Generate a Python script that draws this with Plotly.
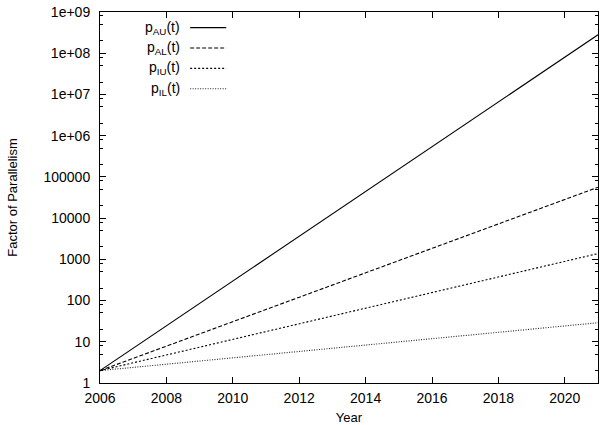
import plotly.graph_objects as go

years = [2006, 2021]
p_AU = [2, 2.8e8]
p_AL = [2, 5.6e4]
p_IU = [2, 1.38e3]
p_IL = [2, 29]

series_names = ["p<sub>AU</sub>(t)", "p<sub>AL</sub>(t)", "p<sub>IU</sub>(t)", "p<sub>IL</sub>(t)"]
series_vals = [p_AU, p_AL, p_IU, p_IL]
series_dash = ["solid", "4px,2px", "2px,2px", "1px,1.5px"]
series_color = ["#000000", "#000000", "#000000", "#222222"]

x_ticks = [2006, 2008, 2010, 2012, 2014, 2016, 2018, 2020]
y_ticks = [1, 10, 100, 1000, 10000, 100000, 1e6, 1e7, 1e8, 1e9]
y_ticktext = ["1", "10", "100", "1000", "10000", "100000", "1e+06", "1e+07", "1e+08", "1e+09"]
y_minor = [m * 10 ** d for d in range(9) for m in (2, 5, 8)]

FONT = "Liberation Sans, Arial, sans-serif"
FS = 14

fig = go.Figure()
for name, vals, dash, col in zip(series_names, series_vals, series_dash, series_color):
    fig.add_trace(go.Scatter(x=years, y=vals, mode="lines", name=name,
                             line=dict(color=col, width=1.1, dash=dash), showlegend=False))

# gnuplot-style key: right-aligned text, line sample to the right
key_top = 0.958
key_step = 0.055
for i, (name, dash, col) in enumerate(zip(series_names, series_dash, series_color)):
    yk = key_top - i * key_step
    fig.add_annotation(xref="paper", yref="paper", x=0.165, y=yk, text=name,
                       showarrow=False, xanchor="right", yanchor="middle",
                       font=dict(family=FONT, size=FS, color="black"))
    fig.add_shape(type="line", xref="paper", yref="paper", x0=0.181, x1=0.2535,
                  y0=yk, y1=yk, line=dict(color=col, width=1.1, dash=dash))

axis_common = dict(showline=True, linecolor="black", linewidth=1, mirror="ticks",
                   ticks="inside", ticklen=6, tickcolor="black", showgrid=False,
                   zeroline=False, tickfont=dict(family=FONT, size=FS, color="black"))

fig.update_xaxes(range=[2006, 2021], tickmode="array", tickvals=x_ticks, ticklabelstandoff=2,
                 title=dict(text="Year", font=dict(family=FONT, size=FS - 1, color="black"), standoff=8),
                 **axis_common)
fig.update_yaxes(type="log", range=[0, 9], tickmode="array", tickvals=y_ticks, ticktext=y_ticktext,
                 ticklabelstandoff=6,
                 minor=dict(tickmode="array", tickvals=y_minor, ticks="inside", ticklen=3, tickcolor="black"),
                 title=dict(text="Factor of Parallelism", font=dict(family=FONT, size=FS - 1, color="black"), standoff=22),
                 **axis_common)

fig.update_layout(width=601, height=425, margin=dict(l=100, r=2, t=12, b=40),
                  paper_bgcolor="white", plot_bgcolor="white",
                  font=dict(family=FONT, size=FS, color="black"))

fig.write_html("out.html")
